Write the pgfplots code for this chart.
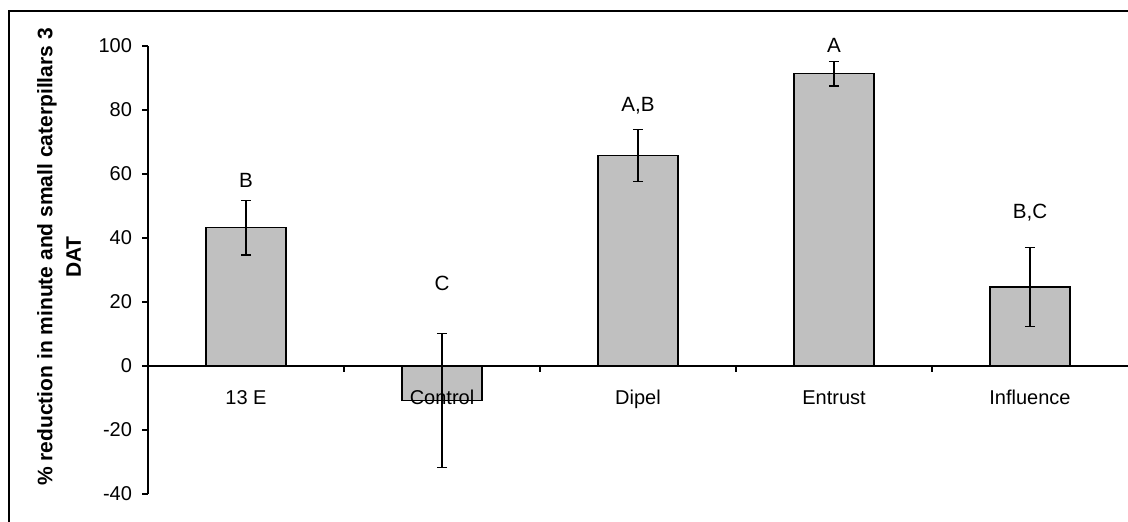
\documentclass[border=0pt]{standalone}
\usepackage{pgfplots}
\pgfplotsset{compat=1.18}
\usepackage{fontspec}
\setmainfont{Liberation Sans}
\definecolor{barfill}{RGB}{192,192,192}
\pgfplotstableread{
x y e
0 43.2 8.5
1 -10.8 21.0
2 65.8 8.2
3 91.3 3.8
4 24.7 12.4
}\bardata
\pgfplotstableread{
x y lab
0 58.1 B
1 25.8 C
2 81.3 A,B
3 100.3 A
4 48.0 B,C
}\letterdata
\begin{document}
\begin{tikzpicture}
\useasboundingbox (0,0) rectangle (564pt,261pt);
\draw[line width=1pt] (4.5pt,-5pt) -- (4.5pt,255.5pt) -- (570pt,255.5pt);
\begin{axis}[
  at={(74pt,14pt)}, anchor=south west,
  scale only axis, width=490pt, height=224pt,
  xmin=-0.5, xmax=4.5, ymin=-40, ymax=100,
  axis x line=middle, axis y line=left,
  axis line style={-, line width=0.7pt},
  axis on top,
  tick align=outside,
  major tick length=3pt, minor tick length=3pt,
  xtick={0,1,2,3,4},
  xticklabels={13 E, Control, Dipel, Entrust, Influence},
  minor xtick={0.5,1.5,2.5,3.5},
  major x tick style={draw=none},
  minor x tick style={line width=0.7pt, black},
  ytick={-40,-20,0,20,40,60,80,100},
  y tick style={line width=0.7pt, black},
  /pgf/number format/assume math mode=true,
  tick label style={font=\fontsize{10}{12}\selectfont},
  xticklabel style={anchor=base, yshift=-16.5pt},
  yticklabel style={xshift=-1.5pt},
  clip=false,
]
\addplot[ybar, bar width=40pt, fill=barfill, draw=black, line width=0.65pt,
  error bars/.cd, y dir=both, y explicit,
  error bar style={line width=0.65pt, black},
  error mark options={rotate=90, line width=0.65pt, black, mark size=2.6pt}]
  table[x=x, y=y, y error=e] {\bardata};
\addplot[only marks, mark=none, nodes near coords, point meta=explicit symbolic,
  every node near coord/.append style={anchor=center, font=\fontsize{10.3}{12}\selectfont, black}]
  table[x=x, y=y, meta=lab] {\letterdata};
\end{axis}
\node[rotate=90, anchor=center, inner sep=0pt,
  font=\fontsize{10.5}{13}\selectfont\bfseries] at (23.5pt,132.5pt)
  {\% reduction in minute and small caterpillars 3};
\node[rotate=90, anchor=center, inner sep=0pt,
  font=\fontsize{10.5}{13}\selectfont\bfseries] at (36.8pt,132.5pt)
  {DAT};
\end{tikzpicture}
\end{document}
